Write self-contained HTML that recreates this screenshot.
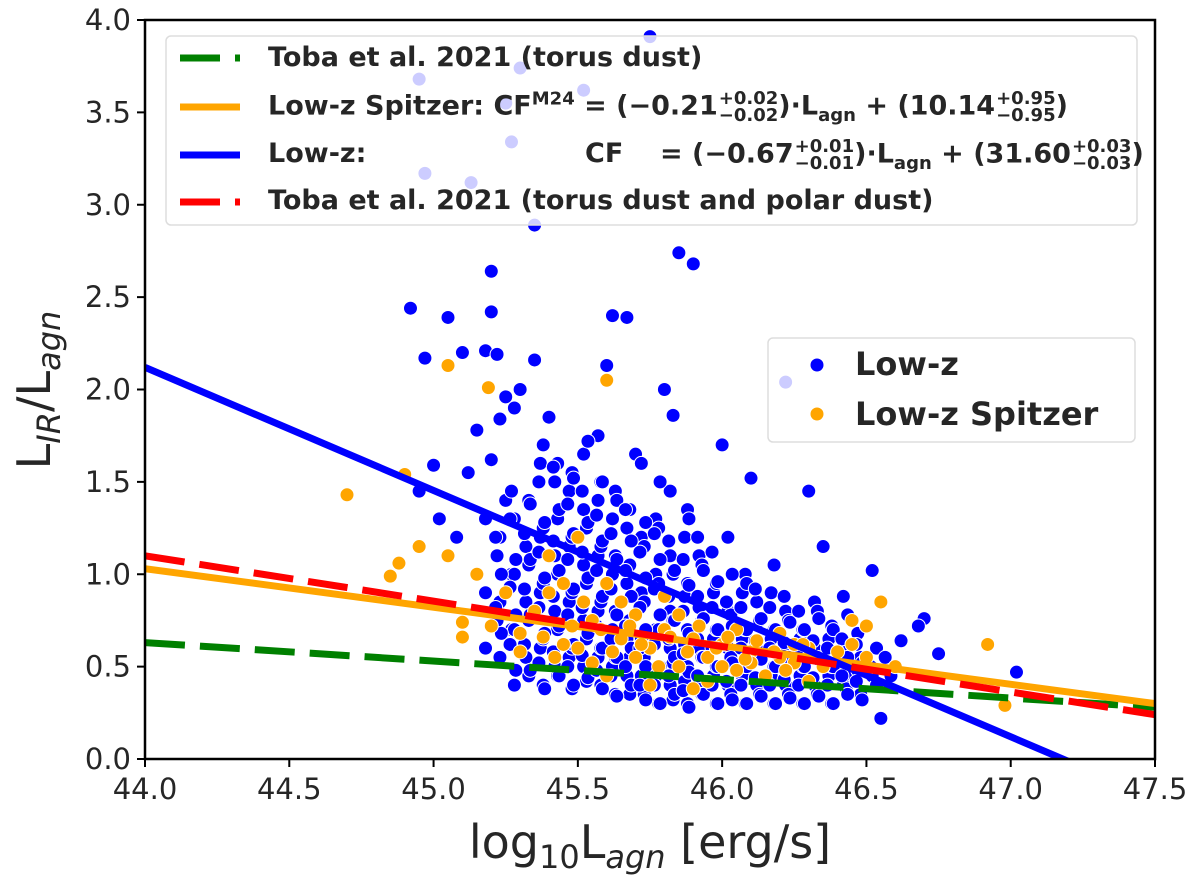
<!DOCTYPE html>
<html><head><meta charset="utf-8">
<style>
body{margin:0;background:#fff;width:1200px;height:882px;overflow:hidden;position:relative;font-family:"DejaVu Sans","Liberation Sans",sans-serif}
#chart{position:absolute;left:0;top:0}
.leg{position:absolute;font-family:"DejaVu Sans","Liberation Sans",sans-serif;font-weight:bold;font-size:27px;color:#262626;white-space:nowrap;line-height:32px}
.ss{display:inline-block;vertical-align:middle;font-size:18px;line-height:17px;text-align:left;margin-left:1px}
sub,sup{font-size:18px;line-height:0}
</style></head><body>
<svg id="chart" width="1200" height="882"></svg>
<div class="leg" style="left:268px;top:42px">Toba et al. 2021 (torus dust)</div>
<div class="leg" style="left:268px;top:90px">Low-z Spitzer: CF<sup>M24</sup> = (−0.21<span class="ss">+0.02<br>−0.02</span>)·L<sub>agn</sub> + (10.14<span class="ss">+0.95<br>−0.95</span>)</div>
<div class="leg" style="left:268px;top:138px">Low-z:<span style="position:absolute;left:317px">CF</span><span style="position:absolute;left:392px">= (−0.67<span class="ss">+0.01<br>−0.01</span>)·L<sub>agn</sub> + (31.60<span class="ss">+0.03<br>−0.03</span>)</span></div>
<div class="leg" style="left:268px;top:185px">Toba et al. 2021 (torus dust and polar dust)</div>
<div class="leg" style="left:855px;top:348px;font-size:32px">Low-z</div>
<div class="leg" style="left:855px;top:398px;font-size:32px">Low-z Spitzer</div>
<script>
const xTicks=[44.0,44.5,45.0,45.5,46.0,46.5,47.0,47.5];
const yTicks=[0.0,0.5,1.0,1.5,2.0,2.5,3.0,3.5,4.0];
const blueOutX=[44.92,45.05,44.97,45.1,45.2,45.2,45.18,45.22,45.35,45.3,45.62,45.67,45.6,45.85,45.9,45.8,46.22,45.35,45.27,45.25,45.3,45.52,45.75,44.95,44.97,45.13,45.0,44.95,45.08,45.02,45.25,45.23,45.4,45.57,45.83,45.7,46.0,46.3,46.52,46.55,46.42,46.7,46.75,47.02,46.62,46.68,46.45,45.15,45.12,45.2,45.25,45.28,46.1,46.35];
const blueOutY=[2.44,2.39,2.17,2.2,2.64,2.42,2.21,2.19,2.16,2.0,2.4,2.39,2.13,2.74,2.68,2.0,2.04,2.89,3.34,3.55,3.74,3.62,3.91,3.68,3.17,3.12,1.59,1.45,1.2,1.3,1.96,1.84,1.85,1.75,1.86,1.65,1.7,1.45,1.02,0.22,0.88,0.76,0.57,0.47,0.64,0.72,0.45,1.78,1.55,1.62,1.4,1.9,1.52,1.15];
const blueColX=[45.2,45.25,45.3,45.35,45.4,45.45,45.5,45.55,45.6,45.65,45.7,45.75,45.8,45.85,45.9,45.95,46.0,46.05,46.1,46.15,46.2,46.25,46.3,46.35,46.4,46.45,46.5];
const blueColY=[[0.6,0.75,0.9,1.1,1.3],[0.55,0.7,0.85,1.0,1.2,1.45],[0.4,0.55,0.7,0.85,1.0,1.15,1.3],[0.45,0.6,0.75,0.9,1.05,1.2,1.4,1.6],[0.4,0.5,0.65,0.8,0.95,1.1,1.25,1.5,1.7],[0.45,0.55,0.7,0.85,1.0,1.15,1.3,1.45,1.6],[0.38,0.5,0.6,0.75,0.9,1.05,1.2,1.35,1.55,1.65],[0.42,0.55,0.65,0.8,0.95,1.1,1.25,1.4],[0.4,0.5,0.6,0.7,0.85,1.0,1.15,1.3,1.5],[0.35,0.45,0.55,0.65,0.8,0.95,1.1,1.25,1.45],[0.35,0.45,0.55,0.65,0.75,0.9,1.05,1.2,1.35,1.6],[0.35,0.45,0.55,0.7,0.85,1.0,1.15,1.3],[0.3,0.4,0.5,0.6,0.7,0.8,0.95,1.1,1.25,1.45],[0.32,0.42,0.52,0.62,0.75,0.88,1.0,1.2],[0.3,0.4,0.5,0.6,0.7,0.82,0.95,1.1,1.35],[0.35,0.45,0.55,0.65,0.75,0.9,1.05],[0.3,0.4,0.5,0.6,0.7,0.8,0.95,1.2],[0.35,0.45,0.55,0.65,0.78,0.9],[0.3,0.4,0.5,0.6,0.7,0.85,1.0],[0.35,0.45,0.55,0.65,0.75,0.9],[0.3,0.4,0.5,0.6,0.7,0.8,1.05],[0.35,0.45,0.55,0.65,0.75],[0.3,0.4,0.5,0.6,0.7,0.85],[0.35,0.45,0.55,0.65,0.8],[0.3,0.4,0.5,0.6,0.72],[0.38,0.48,0.58,0.68],[0.35,0.45,0.55]];
const blueCol2X=[45.225,45.275,45.325,45.375,45.425,45.475,45.525,45.575,45.625,45.675,45.725,45.775,45.825,45.875,45.925,45.975,46.025,46.075,46.125,46.175,46.225,46.275,46.325,46.375,46.425,46.475,46.525,46.575];
const blueCol2Y=[[0.68,0.82,1.0,1.2],[0.48,0.62,0.78,0.93,1.08,1.3],[0.48,0.62,0.78,0.92,1.08,1.22,1.38],[0.38,0.52,0.68,0.82,0.98,1.12,1.28,1.5],[0.45,0.58,0.72,0.88,1.02,1.18,1.35,1.58],[0.4,0.5,0.62,0.78,0.92,1.08,1.22,1.38,1.52],[0.44,0.56,0.68,0.82,0.98,1.12,1.28,1.45,1.72],[0.38,0.48,0.6,0.72,0.88,1.02,1.18,1.32,1.5],[0.34,0.45,0.55,0.65,0.78,0.92,1.08,1.22,1.4],[0.4,0.5,0.6,0.72,0.88,1.02,1.18,1.35],[0.32,0.4,0.5,0.6,0.7,0.82,0.98,1.12,1.28],[0.3,0.4,0.5,0.62,0.78,0.92,1.08,1.22,1.5],[0.35,0.45,0.55,0.65,0.75,0.88,1.02,1.18],[0.28,0.37,0.47,0.57,0.68,0.8,0.94,1.08,1.3],[0.35,0.45,0.55,0.65,0.76,0.88,1.02,1.2],[0.3,0.4,0.5,0.6,0.7,0.82,0.96,1.12],[0.32,0.42,0.52,0.62,0.72,0.85,1.0],[0.3,0.4,0.5,0.6,0.7,0.82,0.95],[0.34,0.44,0.54,0.64,0.76,0.92],[0.3,0.4,0.5,0.6,0.7,0.82],[0.33,0.43,0.53,0.63,0.74,0.88],[0.3,0.4,0.5,0.6,0.7,0.8],[0.34,0.44,0.54,0.64,0.76],[0.3,0.4,0.5,0.6,0.7],[0.35,0.45,0.55,0.65,0.78],[0.32,0.42,0.52,0.62],[0.4,0.5,0.6],[0.45,0.55]];
const orangeX=[44.7,44.9,45.05,45.19,45.6,44.85,44.88,45.15,45.1,45.1,45.4,45.5,45.7,45.8,46.0,46.2,46.3,46.5,46.55,46.92,46.98,46.5,45.3,45.35,45.45,45.55,45.6,45.65,45.75,45.85,45.9,45.95,46.05,46.1,46.15,46.25,46.35,46.4,45.25,45.4,45.5,45.6,45.7,45.8,45.9,46.0,46.1,46.2,46.3,45.2,45.3,45.45,45.55,45.65,45.75,45.85,45.95,46.05,46.25,46.45,45.05,44.95,46.6,46.45,45.58,45.62,45.68,45.72,45.78,45.82,45.88,45.92,45.98,46.02,46.08,46.12,46.18,46.22,46.28,45.38,45.42,45.48,45.52];
const orangeY=[1.43,1.54,2.13,2.01,2.05,0.99,1.06,1.0,0.74,0.66,0.9,0.6,0.55,0.7,0.5,0.55,0.6,0.55,0.85,0.62,0.29,0.72,0.68,0.8,0.62,0.75,0.45,0.85,0.6,0.5,0.65,0.42,0.7,0.58,0.45,0.62,0.5,0.58,0.9,1.1,1.2,0.95,0.78,0.88,0.38,0.62,0.52,0.68,0.42,0.72,0.58,0.95,0.52,0.65,0.4,0.78,0.55,0.48,0.52,0.62,1.1,1.15,0.5,0.75,0.7,0.58,0.72,0.62,0.5,0.66,0.58,0.72,0.6,0.66,0.54,0.64,0.58,0.48,0.62,0.66,0.55,0.72,0.85];
const lineBlue=[2.12,-0.213], lineOrange=[1.03,0.30], lineRed=[1.10,0.24], lineGreen=[0.63,0.28];

const svg=document.getElementById('chart');const NS='http://www.w3.org/2000/svg';
const X0=145,X1=1155,Y0=759,Y1=20;
const sx=v=>X0+(v-44)/(3.5)*(X1-X0), sy=v=>Y0-v/4*(Y0-Y1);
function mk(t,a,p){const e=document.createElementNS(NS,t);for(const k in a)e.setAttribute(k,a[k]);(p||svg).appendChild(e);return e;}
const clip=mk('clipPath',{id:'cp'});mk('rect',{x:X0,y:Y1,width:X1-X0,height:Y0-Y1},clip);
const g=mk('g',{'clip-path':'url(#cp)'});
function dot(x,y,c,n){const e=mk('circle',{cx:sx(x),cy:sy(y),r:7,fill:c,stroke:'#fff','stroke-width':1},g);

}
blueOutX.forEach((x,i)=>dot(x,blueOutY[i],'#0000ff','point-lowz'));
blueColX.forEach((x,i)=>blueColY[i].forEach((y,j)=>dot(x+((j%2)?0.02:-0.02),y,'#0000ff','point-lowz')));
blueCol2X.forEach((x,i)=>blueCol2Y[i].forEach((y,j)=>dot(x+((j%2)?-0.01:0.01),y,'#0000ff','point-lowz')));
orangeX.forEach((x,i)=>dot(x,orangeY[i],'#ffa500','point-lowz-spitzer'));
function line(v,c,dash,n){const e=mk('line',{x1:sx(44),y1:sy(v[0]),x2:sx(47.5),y2:sy(v[1]),stroke:c,'stroke-width':7,'stroke-dasharray':dash||'none'},g);

}
line(lineGreen,'#008000','40 15','line-toba-torus');
line(lineOrange,'#ffa500',null,'line-lowz-spitzer-fit');
line(lineBlue,'#0000ff',null,'line-lowz-fit');
line(lineRed,'#ff0000','40 15','line-toba-polar');
mk('rect',{x:166,y:36,width:971,height:189,rx:5,fill:'rgba(255,255,255,0.8)',stroke:'#ddd','stroke-width':1.5});
[['#008000','40 15',58],['#ffa500',null,107],['#0000ff',null,155],['#ff0000','40 15',202]].forEach(a=>mk('line',{x1:180,y1:a[2],x2:240,y2:a[2],stroke:a[0],'stroke-width':7,'stroke-dasharray':a[1]||'none'}));
mk('rect',{x:768,y:338,width:367,height:104,rx:5,fill:'rgba(255,255,255,0.8)',stroke:'#ddd','stroke-width':1.5});
mk('circle',{cx:817,cy:365,r:7,fill:'#0000ff',stroke:'#fff'});
mk('circle',{cx:817,cy:414,r:7,fill:'#ffa500',stroke:'#fff'});
mk('rect',{x:X0,y:Y1,width:X1-X0,height:Y0-Y1,fill:'none',stroke:'#000','stroke-width':2.5});
xTicks.forEach(t=>{mk('line',{x1:sx(t),y1:Y0,x2:sx(t),y2:Y0+8,stroke:'#000','stroke-width':2});
const e=mk('text',{x:sx(t),y:Y0+40,'text-anchor':'middle','font-size':29,fill:'#262626'});e.textContent=t.toFixed(1);

});
yTicks.forEach(t=>{mk('line',{x1:X0-8,y1:sy(t),x2:X0,y2:sy(t),stroke:'#000','stroke-width':2});
const e=mk('text',{x:X0-14,y:sy(t)+10,'text-anchor':'end','font-size':29,fill:'#262626'});e.textContent=t.toFixed(1);

});
const xt=mk('text',{x:650,y:858,'text-anchor':'middle','font-size':46,fill:'#262626'});
xt.innerHTML='log<tspan font-size="32" dy="10">10</tspan><tspan dy="-10">L</tspan><tspan font-size="32" font-style="italic" dy="10">agn</tspan><tspan dy="-10"> [erg/s]</tspan>';


const yt=mk('text',{x:0,y:0,'text-anchor':'middle','font-size':46,fill:'#262626',transform:'translate(50,390) rotate(-90)'});
yt.innerHTML='L<tspan font-size="32" font-style="italic" dy="10">IR</tspan><tspan dy="-10">/L</tspan><tspan font-size="32" font-style="italic" dy="10">agn</tspan>';


</script>
</body></html>
